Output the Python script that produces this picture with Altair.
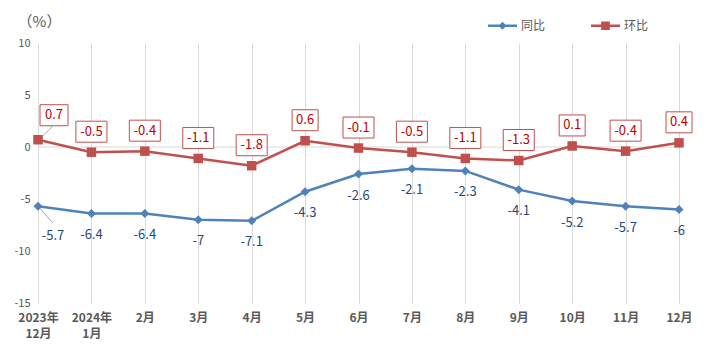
import altair as alt
import pandas as pd

months = ["2023年|12月", "2024年|1月", "2月", "3月", "4月", "5月", "6月",
          "7月", "8月", "9月", "10月", "11月", "12月"]
yoy = [-5.7, -6.4, -6.4, -7, -7.1, -4.3, -2.6, -2.1, -2.3, -4.1, -5.2, -5.7, -6]
mom = [0.7, -0.5, -0.4, -1.1, -1.8, 0.6, -0.1, -0.5, -1.1, -1.3, 0.1, -0.4, 0.4]
series_names = ["同比", "环比"]
series_colors = ["#4F81BD", "#C0504D"]
y_ticks = [-15, -10, -5, 0, 5, 10]

FONT = "Noto Sans CJK SC"


def fmt(v):
    return f"{v:g}"


rows = []
for i, (a, b) in enumerate(zip(yoy, mom)):
    rows.append({"i": i, "series": series_names[0], "value": a, "label": fmt(a)})
    rows.append({"i": i, "series": series_names[1], "value": b, "label": fmt(b)})
df = pd.DataFrame(rows)
zero_df = pd.DataFrame({"i": [0], "i2": [len(months) - 1], "value": [0]})

arr = "[" + ",".join(f"'{m}'" for m in months) + "]"

X = alt.X(
    "i:Q",
    scale=alt.Scale(domain=[0, len(months) - 1], nice=False, zero=False),
    axis=alt.Axis(
        values=list(range(len(months))),
        labelExpr=f"split({arr}[datum.value], '|')",
        grid=True, gridColor="#D9D9D9", gridWidth=1,
        domain=False, ticks=False, labelPadding=9, labelAngle=0,
        labelFontWeight="bold", labelFontSize=12, labelColor="#595959",
        labelFont=FONT, labelLineHeight=16, labelOverlap=False,
        labelFlush=False, labelBound=False, title=None,
    ),
)
Y = alt.Y(
    "value:Q",
    scale=alt.Scale(domain=[-15, 10], nice=False, zero=False),
    axis=alt.Axis(
        values=y_ticks, grid=False, domain=False, ticks=False,
        labelPadding=8, labelColor="#595959", labelFontSize=11, labelFont=FONT,
        labelOverlap=False, labelFlush=False, labelExpr="'' + datum.value",
        title="（%）", titleAngle=0, titleX=1, titleY=-22, titleAlign="center",
        titleBaseline="middle", titleFontWeight="normal", titleColor="#595959",
        titleFontSize=15, titleFont=FONT,
    ),
)
color_scale = alt.Scale(domain=series_names, range=series_colors)
C = alt.Color("series:N", scale=color_scale, legend=None)

base = alt.Chart(df).encode(x=X, y=Y)

zero_rule = alt.Chart(zero_df).mark_rule(color="#D9D9D9", strokeWidth=1).encode(
    x=X, x2=alt.X2("i2"), y=Y
)

lines = base.mark_line(strokeWidth=2.5).encode(color=C)

diamonds = base.transform_filter(f"datum.series == '{series_names[0]}'").mark_point(
    shape="diamond", filled=True, size=81, opacity=1
).encode(color=C)
squares = base.transform_filter(f"datum.series == '{series_names[1]}'").mark_point(
    shape="square", filled=True, size=90, opacity=1
).encode(color=C)

red = base.transform_filter(f"datum.series == '{series_names[1]}'")
blue = base.transform_filter(f"datum.series == '{series_names[0]}'")

lead_red = red.transform_filter("datum.i == 0").mark_rule(
    color="#A6A6A6", strokeWidth=1, xOffset=3, yOffset=-2, x2Offset=15, y2Offset=-14
).encode(x2=alt.X2("i"), y2=alt.Y2("value"))
lead_blue = blue.transform_filter("datum.i == 0").mark_rule(
    color="#A6A6A6", strokeWidth=1, xOffset=1, yOffset=1, x2Offset=15, y2Offset=17
).encode(x2=alt.X2("i"), y2=alt.Y2("value"))

box_style = dict(fill="white", stroke="#C0504D", strokeWidth=1)
box_long = red.transform_filter("datum.i > 0 && length(datum.label) >= 4").mark_rect(
    xOffset=-15.5, x2Offset=15.5, yOffset=-31, y2Offset=-10, **box_style
).encode(x2=alt.X2("i"), y2=alt.Y2("value"))
box_short = red.transform_filter("datum.i > 0 && length(datum.label) < 4").mark_rect(
    xOffset=-13, x2Offset=13, yOffset=-31, y2Offset=-10, **box_style
).encode(x2=alt.X2("i"), y2=alt.Y2("value"))
box_first = red.transform_filter("datum.i == 0").mark_rect(
    xOffset=2, x2Offset=30, yOffset=-35, y2Offset=-14, **box_style
).encode(x2=alt.X2("i"), y2=alt.Y2("value"))

txt = dict(font=FONT, fontSize=13, baseline="middle", align="center")
red_txt = red.transform_filter("datum.i > 0").mark_text(
    color="#C00000", dy=-20.5, **txt).encode(text="label:N")
red_txt0 = red.transform_filter("datum.i == 0").mark_text(
    color="#C00000", dx=16, dy=-24.5, **txt).encode(text="label:N")
blue_txt = blue.transform_filter("datum.i > 0").mark_text(
    color="#1F497D", dy=21.5, **txt).encode(text="label:N")
blue_txt0 = blue.transform_filter("datum.i == 0").mark_text(
    color="#1F497D", dx=15, dy=29.5, **txt).encode(text="label:N")

# legend symbols: line segment with marker
p_diamond = ("M-1,-0.086L-0.19,-0.086L0,-0.276L0.19,-0.086L1,-0.086L1,0.086"
             "L0.19,0.086L0,0.276L-0.19,0.086L-1,0.086Z")
p_square = ("M-1,-0.086L-0.3,-0.086L-0.3,-0.3L0.3,-0.3L0.3,-0.086L1,-0.086L1,0.086"
            "L0.3,0.086L0.3,0.3L-0.3,0.3L-0.3,0.086L-1,0.086Z")
leg = alt.Legend(
    orient="none", legendX=450, legendY=-32, direction="horizontal", title=None,
    symbolSize=841, symbolStrokeWidth=0, symbolOpacity=1, labelFontSize=12,
    labelColor="#595959", labelFont=FONT, labelOffset=4, columnPadding=45,
)
legend_layer = base.mark_point(filled=True, opacity=0, size=1).encode(
    color=alt.Color("series:N", scale=color_scale, legend=leg),
    shape=alt.Shape("series:N", scale=alt.Scale(domain=series_names,
                                                range=[p_diamond, p_square]), legend=leg),
)

chart = alt.layer(
    legend_layer,
    zero_rule, lead_red, lead_blue, lines, diamonds, squares,
    box_long, box_short, box_first, red_txt, red_txt0, blue_txt, blue_txt0,
).properties(
    width=641, height=260,
    autosize=alt.AutoSizeParams(type="none"),
    padding={"left": 30, "top": 35, "right": 25, "bottom": 45},
    background="white",
).configure_view(stroke=None)

chart.save("out.html", embed_options={"renderer": "svg", "actions": False})
